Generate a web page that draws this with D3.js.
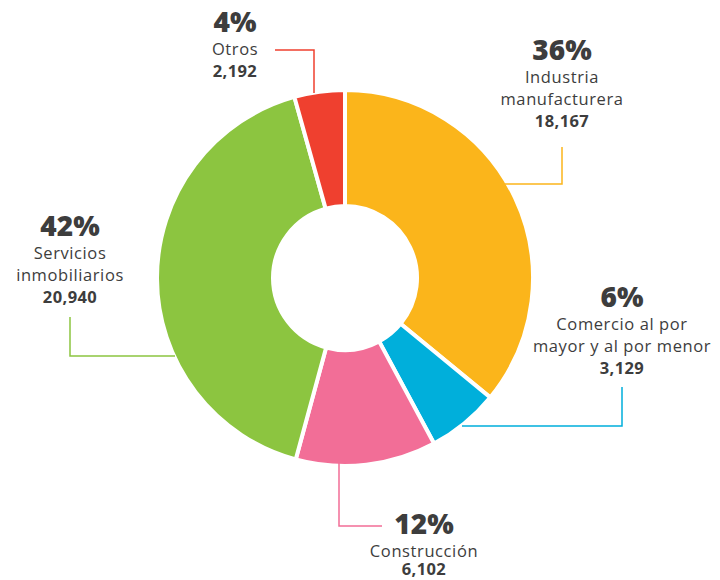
<!DOCTYPE html>
<html><head><meta charset="utf-8">
<script src="https://cdn.jsdelivr.net/npm/d3@7"></script>
<style>
html,body{margin:0;padding:0;background:#fff;}
svg{display:block;}
text{font-family:"Open Sans",sans-serif;fill:#3d3d3d;}
</style></head>
<body>
<svg id="chart" width="720" height="580"></svg>
<script>
const categories = ["Industria manufacturera","Comercio al por mayor y al por menor","Construcción","Servicios inmobiliarios","Otros"];
const labelLines = [["Industria","manufacturera"],["Comercio al por","mayor y al por menor"],["Construcción"],["Servicios","inmobiliarios"],["Otros"]];
const values = [18167, 3129, 6102, 20940, 2192];
const percents = ["36%","6%","12%","42%","4%"];
const valueLabels = ["18,167","3,129","6,102","20,940","2,192"];
const colors = ["#FBB51B","#00AFDB","#F26E97","#8CC540","#EF402F"];

const svg = d3.select("#chart");
const cx = 345, cy = 278, outerR = 188, innerR = 72;

const pie = d3.pie().sort(null).value(d => d);
const arcs = pie(values);
const arc = d3.arc().innerRadius(innerR).outerRadius(outerR);

const g = svg.append("g").attr("transform", `translate(${cx},${cy})`);
g.selectAll("path").data(arcs).join("path")
  .attr("d", arc)
  .attr("fill", (d,i) => colors[i])
  .attr("stroke", "#fff")
  .attr("stroke-width", 4)
  .attr("stroke-linejoin", "miter");

const layout = [
  {x:562, y:60, line:[[562,147],[562,184],[505,184]]},
  {x:622, y:307, line:[[622,387],[622,426],[462,426]]},
  {x:424, y:534, line:[[339,463],[339,526],[382,526]]},
  {x:70, y:236, line:[[70,317],[70,356],[175,356]]},
  {x:235, y:32, line:[[275,50],[314,50],[314,93]]}
];

const labels = svg.append("g");
layout.forEach((L, i) => {
  labels.append("path")
    .attr("d", d3.line()(L.line))
    .attr("fill", "none")
    .attr("stroke", colors[i])
    .attr("stroke-width", 1.5);
  const t = labels.append("g").attr("text-anchor", "middle");
  t.append("text").attr("x", L.x).attr("y", L.y)
    .attr("font-size", 28).attr("font-weight", 800).text(percents[i]);
  let y = L.y + 23;
  labelLines[i].forEach(line => {
    t.append("text").attr("x", L.x).attr("y", y)
      .attr("font-size", 16.5).attr("letter-spacing", 0.6).text(line);
    y += 22;
  });
  t.append("text").attr("x", L.x).attr("y", Math.min(y, 575))
    .attr("font-size", 16.5).attr("font-weight", 700).attr("letter-spacing", 0.4).text(valueLabels[i]);
});
</script>
</body></html>
